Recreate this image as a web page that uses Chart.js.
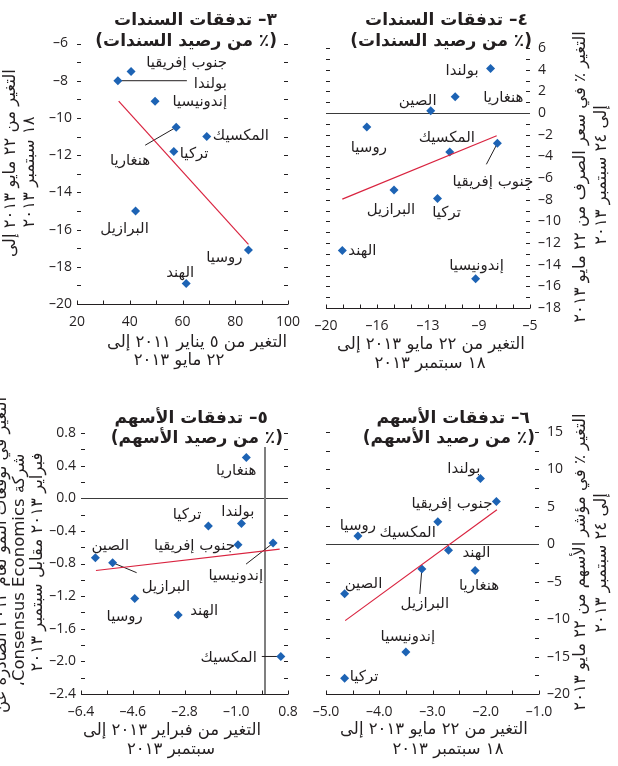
<!DOCTYPE html>
<html>
<head>
<meta charset="utf-8">
<script src="https://cdn.jsdelivr.net/npm/chart.js@4.4.1/dist/chart.umd.min.js"></script>
<style>
html, body { margin: 0; padding: 0; background: #fff; }
#wrap { position: relative; width: 618px; height: 766px; overflow: hidden; }
#wrap canvas { position: absolute; left: 0; top: 0; }
</style>
</head>
<body>
<div id="wrap">
  <canvas id="c3" width="618" height="766"></canvas>
  <canvas id="c4" width="618" height="766"></canvas>
  <canvas id="c5" width="618" height="766"></canvas>
  <canvas id="c6" width="618" height="766"></canvas>
</div>
<script>
// ---- data ----
// 3: bond flows, change 5 Jan 2011 - 22 May 2013 vs 22 May - 18 Sep 2013
var names3 = ["جنوب إفريقيا", "بولندا", "إندونيسيا", "هنغاريا", "المكسيك", "تركيا", "البرازيل", "روسيا", "الهند"];
var x3 = [40.5, 35.5, 49.6, 57.6, 69.2, 56.7, 42.2, 85.0, 61.4];
var y3 = [-7.5, -8.0, -9.1, -10.5, -11.0, -11.8, -15.0, -17.1, -18.9];
var fitX3 = [35.8, 85.0];
var fitY3 = [-9.1, -16.8];

// 4: bond flows vs exchange rate change
var names4 = ["بولندا", "هنغاريا", "الصين", "روسيا", "جنوب إفريقيا", "المكسيك", "البرازيل", "تركيا", "الهند", "إندونيسيا"];
var x4 = [-7.9, -10.5, -12.3, -17.0, -7.4, -10.9, -15.0, -11.8, -18.8, -9.0];
var y4 = [4.1, 1.5, 0.2, -1.3, -2.8, -3.6, -7.1, -7.9, -12.7, -15.3];
var fitX4 = [-18.8, -7.45];
var fitY4 = [-7.95, -2.1];

// 5: equity flows vs growth forecast change
var names5 = ["هنغاريا", "بولندا", "تركيا", "جنوب إفريقيا", "إندونيسيا", "الصين", "البرازيل", "روسيا", "الهند", "المكسيك"];
var x5 = [-0.65, -0.82, -1.97, -0.94, 0.28, -5.9, -5.3, -4.53, -3.02, 0.55];
var y5 = [0.5, -0.31, -0.34, -0.57, -0.55, -0.73, -0.79, -1.23, -1.43, -1.94];
var fitX5 = [-5.88, 0.51];
var fitY5 = [-0.886, -0.624];

// 6: equity flows vs stock index change
var names6 = ["بولندا", "جنوب إفريقيا", "المكسيك", "روسيا", "الهند", "البرازيل", "هنغاريا", "الصين", "إندونيسيا", "تركيا"];
var x6 = [-2.1, -1.8, -2.9, -4.4, -2.7, -3.2, -2.2, -4.65, -3.5, -4.65];
var y6 = [8.8, 5.7, 3.0, 1.1, -0.8, -3.3, -3.5, -6.6, -14.4, -17.9];
var fitX6 = [-4.64, -1.79];
var fitY6 = [-10.2, 4.6];

var INK = "#231f20";
var BLUE = "#1d63b4";
var RED = "#d9233f";
var NUM_FONT = "'Open Sans', 'DejaVu Sans', sans-serif";
var AR_FONT = "'DejaVu Sans', sans-serif";

function signed(v, dec) {
    var s = Math.abs(v).toFixed(dec);
    return (v < -1e-9 ? "\u2013" : "") + s;
}
function rounded(v) {
    var s = Math.round(Math.abs(v));
    return (v < -1e-9 && s !== 0 ? "\u2013" : "") + s;
}

// label placement: [anchor, dx, dy, leaderDx, leaderDy] relative to the point
var panels = [
  {
    canvas: "c3", names: names3, xs: x3, ys: y3, fitX: fitX3, fitY: fitY3,
    area: {left: 77, right: 288, top: 43.5, bottom: 304},
    xAxis: {min: 20, max: 100, step: 10, every: 2, fmt: function(v) { return signed(v, 0); }},
    yAxis: {min: -20, max: -6, step: 1, every: 2, pos: "left", align: "center", fmt: function(v) { return signed(v, 0); }},
    labels: [["r", 96, -8], ["r", 109, 3, 69, 0], ["r", 72, 1], ["r", -26, 34, -31, 18], ["l", 6, 0],
             ["l", 6, 3], ["c", -11, 18], ["r", -6, 8], ["c", -6, -10]],
    title: [["٣– تدفقات السندات", 277, 21], ["(٪ من رصيد السندات)", 277, 42]],
    xTitle: [["التغير من ٥ يناير ٢٠١١ إلى", 197, 343], ["٢٢ مايو ٢٠١٣", 179, 361]],
    yTitle: [["التغير من ٢٢ مايو ٢٠١٣ إلى", 11, 163], ["١٨ سبتمبر ٢٠١٣", 30, 172]]
  },
  {
    canvas: "c4", names: names4, xs: x4, ys: y4, fitX: fitX4, fitY: fitY4, zeroY: true,
    area: {left: 326, right: 530, top: 48, bottom: 308},
    xAxis: {min: -20, max: -5, step: 1.25, every: 3, fmt: rounded},
    yAxis: {min: -18, max: 6, step: 1, every: 2, pos: "right", align: "near", fmt: function(v) { return signed(v, 0); }},
    labels: [["r", -12, 3], ["l", 28, 1], ["c", -13, -10], ["c", 2, 21], ["r", 36, 39, -11, 21],
             ["c", -3, -14], ["c", -3, 20], ["c", 9, 15], ["l", 6, 1], ["c", 1, -13]],
    title: [["٤– تدفقات السندات", 528, 21], ["(٪ من رصيد السندات)", 532, 42]],
    xTitle: [["التغير من ٢٢ مايو ٢٠١٣ إلى", 431, 345], ["١٨ سبتمبر ٢٠١٣", 430, 364]],
    yTitle: [["التغير ٪ في سعر الصرف من ٢٢ مايو ٢٠١٣", 581, 177], ["إلى ٢٤ سبتمبر ٢٠١٣", 602, 175]]
  },
  {
    canvas: "c5", names: names5, xs: x5, ys: y5, fitX: fitX5, fitY: fitY5, zeroY: true, zeroX: true,
    area: {left: 81, right: 288, top: 433, bottom: 694},
    xAxis: {min: -6.4, max: 0.8, step: 0.9, every: 2, fmt: function(v) { return signed(v, 1); }},
    yAxis: {min: -2.4, max: 0.8, step: 0.2, every: 2, pos: "left", align: "near", fmt: function(v) { return signed(v, 1); }},
    labels: [["r", 10, 14], ["r", 13, -11], ["r", -7, -11], ["r", -3, 1], ["r", -10, 33, -27, 21],
             ["l", -4, -12], ["l", 29, 24, 24, 10], ["r", 8, 19], ["l", 12, -4], ["r", -24, 2, -19, 0]],
    title: [["٥– تدفقات الأسهم", 268, 419], ["(٪ من رصيد الأسهم)", 283, 439]],
    xTitle: [["التغير من فبراير ٢٠١٣ إلى", 172, 731], ["سبتمبر ٢٠١٣", 171, 750]],
    yTitle: [["التغير في توقعات النمو لعام ٢٠١٣ الصادرة عن", 2, 555],
             ["شركة Consensus Economics،", 20, 570],
             ["فبراير ٢٠١٣ مقابل سبتمبر ٢٠١٣", 38, 562]]
  },
  {
    canvas: "c6", names: names6, xs: x6, ys: y6, fitX: fitX6, fitY: fitY6, zeroY: true,
    area: {left: 326, right: 539, top: 432, bottom: 694},
    xAxis: {min: -5, max: -1, step: 0.5, every: 2, fmt: function(v) { return signed(v, 1); }},
    yAxis: {min: -20, max: 15, step: 2.5, every: 2, pos: "right", align: "near", fmt: function(v) { return signed(v, 0); }},
    labels: [["r", 0, -9], ["r", -4, 2], ["r", -2, 11], ["r", 18, -10], ["l", 14, 3],
             ["c", 3, 35, -2, 25], ["c", 4, 16], ["l", 0, -10], ["c", 2, -15], ["l", 5, -1]],
    title: [["٦– تدفقات الأسهم", 530, 419], ["(٪ من رصيد الأسهم)", 535, 439]],
    xTitle: [["التغير من ٢٢ مايو ٢٠١٣ إلى", 434, 730], ["١٨ سبتمبر ٢٠١٣", 448, 750]],
    yTitle: [["التغير ٪ في مؤشر الأسهم من ٢٢ مايو ٢٠١٣", 581, 562], ["إلى ٢٤ سبتمبر ٢٠١٣", 602, 563]]
  }
];

function seg(ctx, x1, y1, x2, y2) {
    ctx.beginPath();
    ctx.moveTo(x1, y1);
    ctx.lineTo(x2, y2);
    ctx.stroke();
}

function decor(p) {
    return {
        id: "decor",
        beforeDatasetsDraw: function(chart) {
            var ctx = chart.ctx, sx = chart.scales.x, sy = chart.scales.y, a = chart.chartArea;
            ctx.save();
            ctx.strokeStyle = INK;
            ctx.lineWidth = 1;
            // short y ticks on both sides of the plot
            sy.ticks.forEach(function(t) {
                if (Math.abs(t.value - p.yAxis.min) < 1e-9) return;
                var py = Math.round(sy.getPixelForValue(t.value)) + 0.5;
                seg(ctx, a.left, py, a.left + 4, py);
                seg(ctx, a.right - 4, py, a.right, py);
            });
            // x axis line with upward ticks
            var by = Math.round(a.bottom) + 0.5;
            seg(ctx, a.left, by, a.right, by);
            sx.ticks.forEach(function(t) {
                var px = Math.round(sx.getPixelForValue(t.value)) + 0.5;
                seg(ctx, px, by, px, by - 4);
            });
            if (p.zeroY) {
                var zy = Math.round(sy.getPixelForValue(0)) + 0.5;
                ctx.strokeStyle = "#3a3a3a";
                seg(ctx, a.left, zy, a.right, zy);
            }
            if (p.zeroX) {
                var zx = Math.round(sx.getPixelForValue(0));
                ctx.strokeStyle = "#7f7f7f";
                ctx.lineWidth = 2;
                seg(ctx, zx, a.top + 14, zx, a.bottom);
            }
            // leader lines
            ctx.strokeStyle = INK;
            ctx.lineWidth = 1;
            p.labels.forEach(function(l, i) {
                if (l.length < 5) return;
                var px = sx.getPixelForValue(p.xs[i]), py = sy.getPixelForValue(p.ys[i]);
                seg(ctx, px, py, px + l[3], py + l[4]);
            });
            ctx.restore();
        },
        afterDatasetsDraw: function(chart) {
            var ctx = chart.ctx, sx = chart.scales.x, sy = chart.scales.y;
            ctx.save();
            ctx.fillStyle = INK;
            ctx.direction = "rtl";
            ctx.textBaseline = "middle";
            // point labels
            ctx.font = "15px " + AR_FONT;
            p.labels.forEach(function(l, i) {
                var px = sx.getPixelForValue(p.xs[i]), py = sy.getPixelForValue(p.ys[i]);
                ctx.textAlign = l[0] === "r" ? "right" : (l[0] === "l" ? "left" : "center");
                ctx.fillText(p.names[i], px + l[1], py + l[2]);
            });
            // panel title
            ctx.font = "bold 17px " + AR_FONT;
            ctx.textAlign = "right";
            p.title.forEach(function(t) { ctx.fillText(t[0], t[1], t[2]); });
            // axis titles
            ctx.font = "16.5px " + AR_FONT;
            ctx.textAlign = "center";
            p.xTitle.forEach(function(t) { ctx.fillText(t[0], t[1], t[2]); });
            p.yTitle.forEach(function(t) {
                ctx.save();
                ctx.translate(t[1], t[2]);
                ctx.rotate(-Math.PI / 2);
                ctx.fillText(t[0], 0, 0);
                ctx.restore();
            });
            ctx.restore();
        }
    };
}

function makePanel(p) {
    var yW = 40, xH = 30;
    var pad = {top: p.area.top, bottom: 766 - p.area.bottom - xH};
    if (p.yAxis.pos === "left") {
        pad.left = p.area.left - yW;
        pad.right = 618 - p.area.right;
    } else {
        pad.left = p.area.left;
        pad.right = 618 - p.area.right - yW;
    }
    var pts = p.xs.map(function(x, i) { return {x: x, y: p.ys[i]}; });
    var fit = [{x: p.fitX[0], y: p.fitY[0]}, {x: p.fitX[1], y: p.fitY[1]}];
    return new Chart(document.getElementById(p.canvas), {
        type: "scatter",
        data: {
            datasets: [{
                type: "line",
                data: fit,
                borderColor: RED,
                borderWidth: 1.2,
                pointRadius: 0,
                fill: false
            }, {
                data: pts,
                pointStyle: "rectRot",
                pointRadius: 4.5,
                backgroundColor: BLUE,
                borderWidth: 0
            }]
        },
        options: {
            responsive: false,
            animation: false,
            events: [],
            layout: {padding: pad},
            plugins: {legend: {display: false}, tooltip: {enabled: false}},
            scales: {
                x: {
                    type: "linear", position: "bottom",
                    min: p.xAxis.min, max: p.xAxis.max,
                    grid: {display: false, drawTicks: false},
                    border: {display: false},
                    ticks: {
                        stepSize: p.xAxis.step, autoSkip: false, maxRotation: 0, padding: 10,
                        color: INK, font: {family: NUM_FONT, size: 14},
                        callback: function(v, i) { return i % p.xAxis.every === 0 ? p.xAxis.fmt(v) : ""; }
                    },
                    afterFit: function(s) { s.height = xH; }
                },
                y: {
                    type: "linear", position: p.yAxis.pos,
                    min: p.yAxis.min, max: p.yAxis.max,
                    grid: {display: false, drawTicks: false},
                    border: {display: false},
                    ticks: {
                        stepSize: p.yAxis.step, autoSkip: false, padding: p.yAxis.pos === "left" ? 5 : 8,
                        crossAlign: p.yAxis.align,
                        color: INK, font: {family: NUM_FONT, size: 14},
                        callback: function(v, i) { return i % p.yAxis.every === 0 ? p.yAxis.fmt(v) : ""; }
                    },
                    afterFit: function(s) { s.width = yW; }
                }
            }
        },
        plugins: [decor(p)]
    });
}

panels.forEach(makePanel);
</script>
</body>
</html>
